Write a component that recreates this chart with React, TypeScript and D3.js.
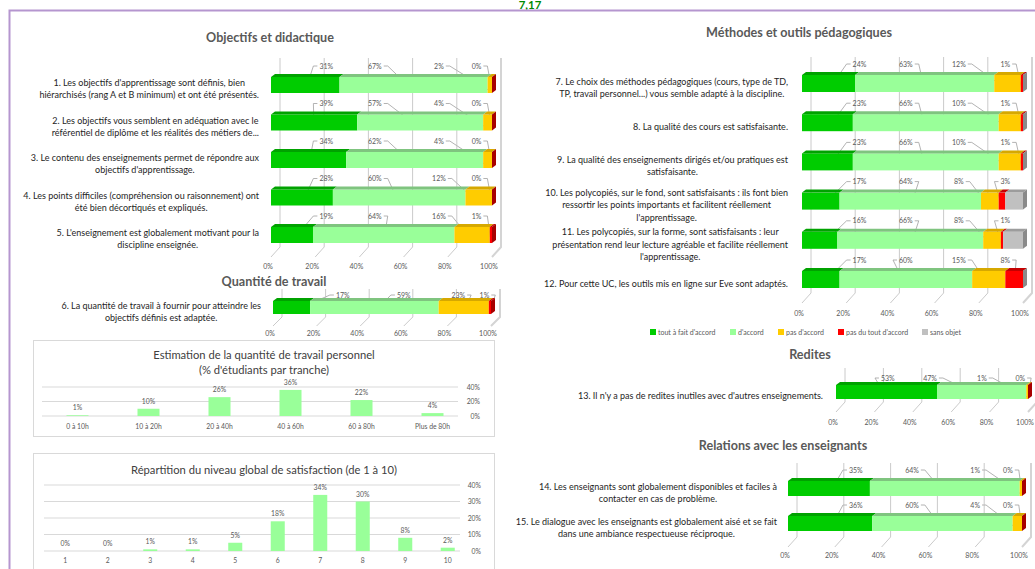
import { useEffect, useRef } from "react";
import * as d3 from "d3";

const FONT = "Lato, 'Liberation Sans', Arial, sans-serif";

const seriesNames = ["tout à fait d'accord", "d'accord", "pas d'accord", "pas du tout d'accord", "sans objet"];
const seriesColors = ["#00CC00", "#99FF99", "#FFCC00", "#FF0000", "#C0C0C0"];
const seriesTopColors = ["#00A200", "#7FC47F", "#D6A800", "#C40000", "#9C9C9C"];
const seriesSideColors = ["#009000", "#70B070", "#C09000", "#A80000", "#8A8A8A"];

const percentTicks = [0, 20, 40, 60, 80, 100];

const objectifsQuestions = [
  "1. Les objectifs d'apprentissage sont définis, bien\nhiérarchisés (rang A et B minimum) et ont été présentés.",
  "2. Les objectifs vous semblent en adéquation avec le\nréférentiel de diplôme et les réalités des métiers de...",
  "3. Le contenu des enseignements permet de répondre aux\nobjectifs d'apprentissage.",
  "4. Les points difficiles (compréhension ou raisonnement) ont\nété bien décortiqués et expliqués.",
  "5. L'enseignement est globalement motivant pour la\ndiscipline enseignée.",
];
const objectifsValues = [
  [31, 67, 2, 0],
  [39, 57, 4, 0],
  [34, 62, 4, 0],
  [28, 60, 12, 0],
  [19, 64, 16, 1],
];

const quantiteQuestions = ["6. La quantité de travail à fournir pour atteindre les\nobjectifs définis est adaptée."];
const quantiteValues = [[17, 59, 23, 1]];

const methodesQuestions = [
  "7. Le choix des méthodes pédagogiques (cours, type de TD,\nTP, travail personnel...) vous semble adapté à la discipline.",
  "8.  La qualité des cours est satisfaisante.",
  "9.  La qualité des enseignements dirigés et/ou pratiques est\nsatisfaisante.",
  "10. Les polycopiés, sur le fond, sont satisfaisants : ils font bien\nressortir les points importants et facilitent réellement\nl'apprentissage.",
  "11. Les polycopiés, sur la forme, sont satisfaisants : leur\nprésentation rend leur lecture agréable et facilite réellement\nl'apprentissage.",
  "12. Pour cette UC, les outils mis en ligne sur Eve sont adaptés.",
];
const methodesValues = [
  [24, 63, 12, 1, 0],
  [23, 66, 10, 1, 0],
  [23, 66, 10, 1, 0],
  [17, 64, 8, 3, 8],
  [16, 66, 8, 1, 9],
  [17, 60, 15, 8, 0],
];

const reditesQuestions = ["13. Il n'y a pas de redites inutiles avec d'autres enseignements."];
const reditesValues = [[52.6, 46.5, 0.9, 0]];

const relationsQuestions = [
  "14. Les enseignants sont globalement disponibles et faciles à\ncontacter en cas de problème.",
  "15. Le dialogue avec les enseignants est globalement aisé et se fait\ndans une ambiance respectueuse réciproque.",
];
const relationsValues = [
  [35, 64, 1, 0],
  [36, 60, 4, 0],
];

const travailCategories = ["0 à 10h", "10 à 20h", "20 à 40h", "40 à 60h", "60 à 80h", "Plus de 80h"];
const travailValues = [1, 10, 26, 36, 22, 4];
const travailTicks = [0, 20, 40];

const satisfactionCategories = ["1", "2", "3", "4", "5", "6", "7", "8", "9", "10"];
const satisfactionValues = [0, 0, 1, 1, 5, 18, 34, 30, 8, 2];
const satisfactionTicks = [0, 10, 20, 30, 40];

const globalScore = "7,17";

type StackCfg = {
  title: string; titleX: number; titleY: number;
  x0: number; w: number; first: number; last: number; h: number;
  plotTop: number; floorBack: number; floorFront: number; axisY: number; labelRight: number;
  anchors: number[]; labelDy: number; // where data labels sit (fraction of axis, offset above bar)
};

type Sel = d3.Selection<SVGSVGElement, unknown, null, undefined>;

function drawStack(svg: Sel, cfg: StackCfg, questions: string[], values: number[][]) {
  const g = svg.append("g").attr("font-family", FONT);
  const x = d3.scaleLinear().domain([0, 100]).range([cfg.x0, cfg.x0 + cfg.w]);
  const y = d3.scalePoint<number>().domain(d3.range(questions.length)).range([cfg.first, cfg.last]);
  const back = 9, dx = 4, dy = 3;

  g.append("text").attr("x", cfg.titleX).attr("y", cfg.titleY).attr("text-anchor", "middle")
    .attr("font-size", 12.6).attr("font-weight", "bold").attr("fill", "#595959").text(cfg.title);

  // back wall gridlines + floor
  percentTicks.forEach((t) => {
    const xf = x(t), xb = xf + back;
    g.append("path")
      .attr("d", `M${xb},${cfg.plotTop}V${cfg.floorBack}L${xf},${cfg.floorFront}`)
      .attr("fill", "none")
      .attr("stroke", t === 100 ? "#d4d4d4" : "#bcbcbc")
      .attr("stroke-width", t === 100 ? 2 : 0.8);
    g.append("text").attr("x", xf - 3).attr("y", cfg.axisY).attr("text-anchor", "middle")
      .attr("font-size", 7).attr("fill", "#595959").text(`${t}%`);
  });

  values.forEach((row, i) => {
    const top = y(i)!;
    const h = cfg.h;
    let acc = 0;
    const segs = row.map((v, k) => {
      const s = { k, v, a: acc, b: acc + v };
      acc += v;
      return s;
    });
    segs.forEach((s) => {
      const xa = x(s.a), xb = x(s.b);
      if (xb - xa <= 0) return;
      g.append("rect").attr("x", xa).attr("y", top).attr("width", xb - xa).attr("height", h)
        .attr("fill", seriesColors[s.k]);
      g.append("path")
        .attr("d", `M${xa},${top}L${xa + dx},${top - dy}L${xb + dx},${top - dy}L${xb},${top}Z`)
        .attr("fill", seriesTopColors[s.k]);
    });
    const xe = x(acc);
    const lastK = segs[segs.length - 1].k;
    g.append("path")
      .attr("d", `M${xe},${top}L${xe + dx},${top - dy}L${xe + dx},${top + h - dy}L${xe},${top + h}Z`)
      .attr("fill", seriesSideColors[lastK]);

    // data labels with leader lines (sans objet is not labelled)
    segs.slice(0, 4).forEach((s) => {
      const lx = cfg.x0 + cfg.anchors[s.k] * cfg.w;
      const ly = top - cfg.labelDy;
      const txt = g.append("text").attr("x", lx).attr("y", ly + 2.5).attr("text-anchor", "middle")
        .attr("font-size", 7).attr("fill", "#595959").text(`${Math.round(s.v)}%`);
      const tw = (txt.node() as SVGTextElement).getComputedTextLength();
      const tx = x((s.a + s.b) / 2), ty = top + h - 2;
      const right = tx > lx;
      const edge = right ? lx + tw / 2 + 2 : lx - tw / 2 - 2;
      const stub = right ? edge + 4 : edge - 4;
      g.insert("path", "text")
        .attr("d", `M${edge},${ly}H${stub}L${tx},${ty}`)
        .attr("fill", "none").attr("stroke", "#a0a0a0").attr("stroke-width", 0.8);
    });

    // question label: lines centred within their block, block right-aligned
    const lines = questions[i].split("\n");
    const lineH = 12.3;
    const yc = top + h / 2 + 4;
    const y0 = yc - ((lines.length - 1) * lineH) / 2 + 3.2;
    const qs = lines.map((ln, j) =>
      g.append("text").attr("y", y0 + j * lineH).attr("text-anchor", "middle")
        .attr("font-size", 9).attr("fill", "#1e1e1e").text(ln)
    );
    const maxW = d3.max(qs, (t) => (t.node() as SVGTextElement).getComputedTextLength()) ?? 0;
    qs.forEach((t) => t.attr("x", cfg.labelRight - maxW / 2));
  });
}

type ColCfg = {
  box: [number, number, number, number];
  titleLines: string[]; titleY: number;
  x1: number; x2: number; pad: number; y0: number; yTop: number;
  gridRight: number; axisX: number; catY: number;
};

function drawColumns(svg: Sel, cfg: ColCfg, cats: string[], vals: number[], ticks: number[]) {
  const g = svg.append("g").attr("font-family", FONT);
  const [bx, by, bw, bh] = cfg.box;
  g.append("rect").attr("x", bx).attr("y", by).attr("width", bw).attr("height", bh)
    .attr("fill", "#fff").attr("stroke", "#d9d9d9").attr("stroke-width", 1);
  cfg.titleLines.forEach((t, j) =>
    g.append("text").attr("x", bx + bw / 2).attr("y", cfg.titleY + j * 15).attr("text-anchor", "middle")
      .attr("font-size", 11.2).attr("fill", "#404040").text(t)
  );
  const x = d3.scaleBand().domain(cats).range([cfg.x1, cfg.x2]).paddingInner(cfg.pad).paddingOuter(cfg.pad / 2);
  const y = d3.scaleLinear().domain([0, d3.max(ticks)!]).range([cfg.y0, cfg.yTop]);
  ticks.forEach((t) => {
    g.append("line").attr("x1", cfg.x1).attr("x2", cfg.gridRight).attr("y1", y(t)).attr("y2", y(t))
      .attr("stroke", "#d9d9d9").attr("stroke-width", 1);
    g.append("text").attr("x", cfg.axisX).attr("y", y(t) + 2.5).attr("text-anchor", "end")
      .attr("font-size", 6.8).attr("fill", "#595959").text(`${t}%`);
  });
  cats.forEach((c, i) => {
    const v = vals[i];
    const cx = x(c)! + x.bandwidth() / 2;
    g.append("rect").attr("x", x(c)!).attr("y", y(v)).attr("width", x.bandwidth())
      .attr("height", cfg.y0 - y(v)).attr("fill", "#99FF99");
    g.append("text").attr("x", cx).attr("y", y(v) - 5).attr("text-anchor", "middle")
      .attr("font-size", 6.8).attr("fill", "#595959").text(`${v}%`);
    g.append("text").attr("x", cx).attr("y", cfg.catY).attr("text-anchor", "middle")
      .attr("font-size", 6.8).attr("fill", "#595959").text(c);
  });
}

export default function App() {
  const ref = useRef<SVGSVGElement>(null);

  useEffect(() => {
    if (!ref.current) return;
    const svg = d3.select(ref.current);
    svg.selectAll("*").remove();

    svg.append("rect").attr("width", 1035).attr("height", 569).attr("fill", "#fff");

    // frame + global score
    svg.append("text").attr("x", 530).attr("y", 8.8).attr("text-anchor", "middle")
      .attr("font-family", FONT).attr("font-size", 11.5).attr("font-weight", "bold")
      .attr("fill", "#008A00").text(globalScore);
    svg.append("path").attr("d", "M9.5,569V10.5H1035").attr("fill", "none")
      .attr("stroke", "#B596CF").attr("stroke-width", 2);

    drawStack(svg, {
      title: "Objectifs et didactique", titleX: 270, titleY: 42,
      x0: 271, w: 221, first: 77, last: 227, h: 16,
      plotTop: 58, floorBack: 247, floorFront: 257, axisY: 269, labelRight: 259,
      anchors: [0.25, 0.47, 0.76, 0.93], labelDy: 11,
    }, objectifsQuestions, objectifsValues);

    drawStack(svg, {
      title: "Quantité de travail", titleX: 274, titleY: 286,
      x0: 273, w: 218, first: 301, last: 301, h: 13,
      plotTop: 289, floorBack: 317, floorFront: 326, axisY: 336, labelRight: 261,
      anchors: [0.32, 0.6, 0.85, 0.97], labelDy: 6,
    }, quantiteQuestions, quantiteValues);

    drawStack(svg, {
      title: "Méthodes et outils pédagogiques", titleX: 799, titleY: 37,
      x0: 802, w: 221, first: 75, last: 271, h: 17,
      plotTop: 57, floorBack: 293, floorFront: 303, axisY: 316, labelRight: 788,
      anchors: [0.26, 0.47, 0.71, 0.92], labelDy: 11,
    }, methodesQuestions, methodesValues);

    drawStack(svg, {
      title: "Redites", titleX: 810, titleY: 359,
      x0: 836, w: 192, first: 385, last: 385, h: 14,
      plotTop: 368, floorBack: 402, floorFront: 412, axisY: 425, labelRight: 823,
      anchors: [0.27, 0.49, 0.76, 0.96], labelDy: 7,
    }, reditesQuestions, reditesValues);

    drawStack(svg, {
      title: "Relations avec les enseignants", titleX: 783, titleY: 450,
      x0: 788, w: 234, first: 481, last: 516, h: 15,
      plotTop: 463, floorBack: 537, floorFront: 547, axisY: 558, labelRight: 777,
      anchors: [0.29, 0.53, 0.8, 0.94], labelDy: 11,
    }, relationsQuestions, relationsValues);

    // legend of the Méthodes chart
    const legendX = [650, 730, 778, 838, 922];
    const lg = svg.append("g").attr("font-family", FONT);
    seriesNames.forEach((n, k) => {
      lg.append("rect").attr("x", legendX[k]).attr("y", 329).attr("width", 6).attr("height", 6)
        .attr("fill", seriesColors[k]);
      lg.append("text").attr("x", legendX[k] + 8).attr("y", 334.5).attr("font-size", 7)
        .attr("fill", "#595959").text(n);
    });

    drawColumns(svg, {
      box: [33.5, 340.5, 461, 96],
      titleLines: ["Estimation de la quantité de travail personnel", "(% d'étudiants par tranche)"],
      titleY: 359, x1: 42, x2: 468, pad: 0.69, y0: 416, yTop: 387,
      gridRight: 458, axisX: 480, catY: 429,
    }, travailCategories, travailValues, travailTicks);

    drawColumns(svg, {
      box: [33.5, 453.5, 461, 130],
      titleLines: ["Répartition du niveau global de satisfaction (de 1 à 10)"],
      titleY: 474, x1: 44, x2: 469, pad: 0.67, y0: 551, yTop: 485,
      gridRight: 460, axisX: 481, catY: 563,
    }, satisfactionCategories, satisfactionValues, satisfactionTicks);
  }, []);

  return (
    <svg
      ref={ref}
      width={1035}
      height={569}
      style={{ position: "absolute", left: 0, top: 0, display: "block" }}
    />
  );
}
